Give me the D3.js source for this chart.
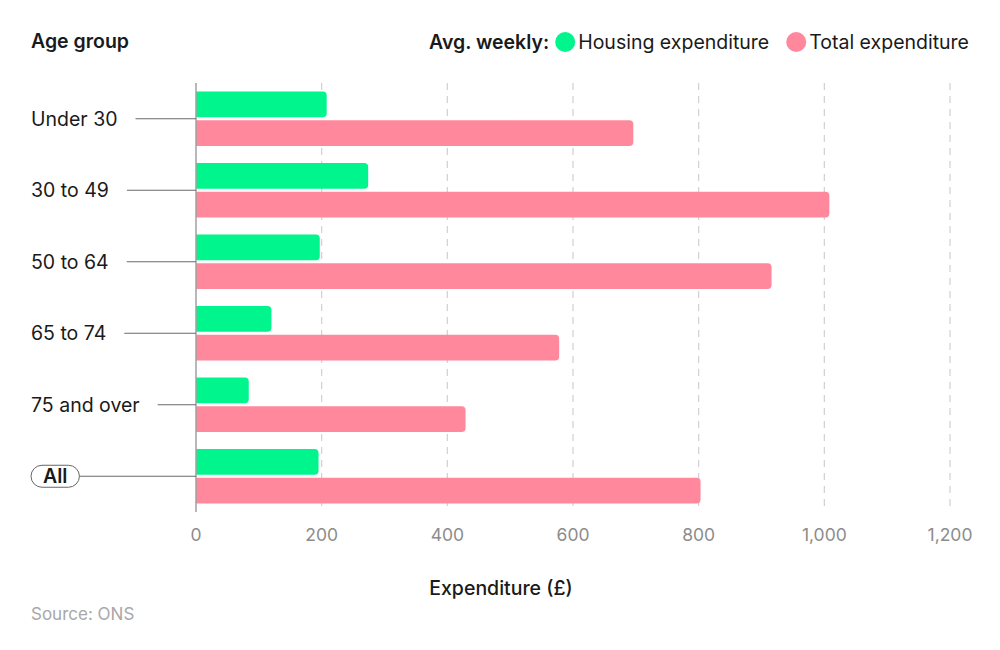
<!DOCTYPE html>
<html>
<head>
<meta charset="utf-8">
<script src="https://cdn.jsdelivr.net/npm/d3@7"></script>
<style>
  body { margin: 0; background: #fff; }
  text { font-family: Inter, "Noto Sans", sans-serif; }
</style>
</head>
<body>
<div id="chart"></div>
<script>
// data
var ageGroups = ["Under 30", "30 to 49", "50 to 64", "65 to 74", "75 and over", "All"];
var housing = [208, 274, 197, 120, 84, 195];
var total = [696, 1008, 916, 578, 429, 803];
var seriesNames = ["Housing expenditure", "Total expenditure"];
var seriesColors = ["#00f58c", "#ff889c"];
var xTicks = [0, 200, 400, 600, 800, 1000, 1200];

var width = 1000, height = 650;

var svg = d3.select("#chart").append("svg")
    .attr("width", width)
    .attr("height", height);

var x = d3.scaleLinear().domain([0, 1200]).range([196, 950]);

var y = d3.scaleBand()
    .domain(ageGroups)
    .range([83, 512])
    .paddingInner(0.236)
    .paddingOuter(0.118);

var ySub = d3.scaleBand()
    .domain(seriesNames)
    .range([0, y.bandwidth()])
    .paddingInner(0.1);

//dashed vertical grid, behind the bars
svg.append("g")
    .selectAll("line")
    .data(xTicks.slice(1))
    .enter().append("line")
    .attr("x1", function(d) { return x(d); })
    .attr("x2", function(d) { return x(d); })
    .attr("y1", 83)
    .attr("y2", 512)
    .attr("stroke", "#d0d0d0")
    .attr("stroke-width", 1.2)
    .attr("stroke-dasharray", "7,6");

//bar with rounded right end only
function barPath(x0, x1, y0, h, r) {
    r = Math.min(r, (x1 - x0) / 2);
    return "M" + x0 + "," + y0 +
        "H" + (x1 - r) +
        "Q" + x1 + "," + y0 + " " + x1 + "," + (y0 + r) +
        "V" + (y0 + h - r) +
        "Q" + x1 + "," + (y0 + h) + " " + (x1 - r) + "," + (y0 + h) +
        "H" + x0 + "Z";
}

var rows = ageGroups.map(function(g, i) {
    return { group: g, values: [housing[i], total[i]] };
});

var groups = svg.append("g").selectAll("g")
    .data(rows)
    .enter().append("g")
    .attr("transform", function(d) { return "translate(0," + y(d.group) + ")"; });

groups.selectAll("path")
    .data(function(d) {
        return d.values.map(function(v, j) { return { name: seriesNames[j], value: v, color: seriesColors[j] }; });
    })
    .enter().append("path")
    .attr("fill", function(d) { return d.color; })
    .attr("d", function(d) {
        return barPath(x(0), x(d.value), ySub(d.name), ySub.bandwidth(), 4);
    });

//zero axis line
svg.append("line")
    .attr("x1", x(0)).attr("x2", x(0))
    .attr("y1", 83).attr("y2", 512)
    .attr("stroke", "#a0a0a0")
    .attr("stroke-width", 1.5);

//category labels on the left with leader lines to the axis
var labelX = 31;
ageGroups.forEach(function(g, i) {
    var cy = y(g) + y.bandwidth() / 2;
    var isAll = (g === "All");
    var t = svg.append("text")
        .attr("x", isAll ? labelX + 12 : labelX)
        .attr("y", cy)
        .attr("dy", "0.35em")
        .attr("fill", "#1a1a1a")
        .style("font-size", "19.5px")
        .style("font-weight", isAll ? "600" : "400")
        .text(g);
    var tw = t.node().getComputedTextLength();
    var lineStart;
    if (isAll) {
        var pillW = tw + 24;
        svg.insert("rect", "text")
            .attr("x", labelX)
            .attr("y", cy - 11)
            .attr("width", pillW)
            .attr("height", 22)
            .attr("rx", 11)
            .attr("fill", "#fff")
            .attr("stroke", "#666")
            .attr("stroke-width", 1);
        lineStart = labelX + pillW;
    } else {
        lineStart = labelX + tw + 18;
    }
    svg.append("line")
        .attr("x1", lineStart).attr("x2", x(0))
        .attr("y1", cy).attr("y2", cy)
        .attr("stroke", "#6a6a6a")
        .attr("stroke-width", 1.2);
});

//x tick labels
svg.append("g").selectAll("text")
    .data(xTicks)
    .enter().append("text")
    .attr("x", function(d) { return x(d); })
    .attr("y", 541)
    .attr("text-anchor", "middle")
    .attr("fill", "#8c8c8c")
    .style("font-size", "17.5px")
    .text(function(d) { return d3.format(",")(d); });

//axis title
svg.append("text")
    .attr("x", 501)
    .attr("y", 595)
    .attr("text-anchor", "middle")
    .attr("fill", "#1a1a1a")
    .style("font-size", "19.5px")
    .style("font-weight", "500")
    .text("Expenditure (£)");

//source
svg.append("text")
    .attr("x", 31)
    .attr("y", 620)
    .attr("fill", "#a8a8a8")
    .style("font-size", "17px")
    .text("Source: ONS");

//y title
svg.append("text")
    .attr("x", 31)
    .attr("y", 48)
    .attr("fill", "#1a1a1a")
    .style("font-size", "19.5px")
    .style("font-weight", "600")
    .text("Age group");

//legend, laid out from the right edge
var legend = svg.append("g");
var legY = 42;
var cursor = 969;
for (var k = seriesNames.length - 1; k >= 0; --k) {
    var lt = legend.append("text")
        .attr("y", legY)
        .attr("dy", "0.35em")
        .attr("fill", "#1a1a1a")
        .style("font-size", "19.5px")
        .text(seriesNames[k]);
    var w = lt.node().getComputedTextLength();
    lt.attr("x", cursor - w);
    cursor = cursor - w - 3;
    legend.append("circle")
        .attr("cx", cursor - 10)
        .attr("cy", legY)
        .attr("r", 10)
        .attr("fill", seriesColors[k]);
    cursor = cursor - 20 - 17;
}
cursor = cursor + 17 - 6;
var head = legend.append("text")
    .attr("y", legY)
    .attr("dy", "0.35em")
    .attr("fill", "#1a1a1a")
    .style("font-size", "19.5px")
    .style("font-weight", "600")
    .text("Avg. weekly:");
head.attr("x", cursor - head.node().getComputedTextLength());
</script>
</body>
</html>
